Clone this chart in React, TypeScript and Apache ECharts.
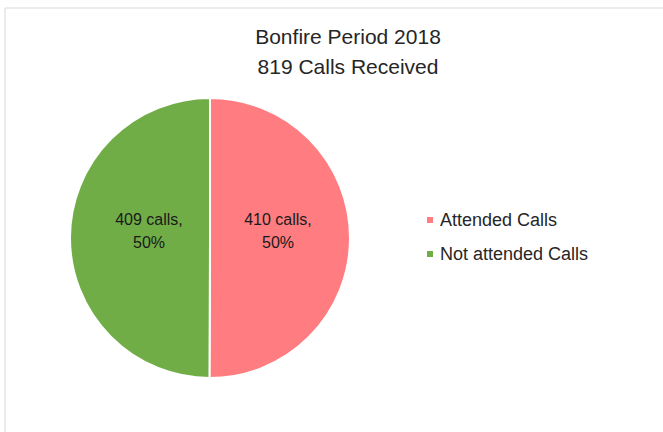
import React, { useEffect, useRef } from "react";
import * as echarts from "echarts";

const titleLines = ["Bonfire Period 2018", "819 Calls Received"];
const categories = ["Attended Calls", "Not attended Calls"];
const values = [410, 409];
const colors = ["#FF7C80", "#70AD47"];
const labelOffsets = [[-5, -7], [12, -7]];

export default function App() {
  const ref = useRef<HTMLDivElement>(null);
  useEffect(() => {
    if (!ref.current) return;
    const chart = echarts.init(ref.current, null, { renderer: "svg" });
    const total = values.reduce((a, b) => a + b, 0);
    chart.setOption({
      animation: false,
      backgroundColor: "#ffffff",
      title: {
        text: titleLines.join("\n"),
        left: 343,
        textAlign: "center",
        top: 16,
        textStyle: {
          fontFamily: "Liberation Sans, Arial, sans-serif",
          fontSize: 21,
          fontWeight: "normal",
          color: "#262626",
          lineHeight: 30,
        },
      },
      legend: {
        orient: "vertical",
        left: 420,
        top: 206,
        itemWidth: 8,
        itemHeight: 8,
        itemGap: 16,
        icon: "rect",
        textStyle: {
          fontFamily: "Liberation Sans, Arial, sans-serif",
          fontSize: 18,
          color: "#262626",
          padding: [0, 0, 0, 1],
        },
        data: categories,
      },
      graphic: [
        {
          type: "rect",
          shape: { x: 5, y: 8, width: 700, height: 500 },
          style: { fill: "none", stroke: "#d9d9d9", lineWidth: 1 },
          silent: true,
        },
      ],
      series: [
        {
          type: "pie",
          center: [210, 238],
          radius: 140,
          startAngle: 90,
          clockwise: true,
          itemStyle: { borderColor: "#ffffff", borderWidth: 2 },
          label: {
            show: true,
            position: "inside",
            formatter: (p: any) =>
              `${p.value} calls,\n${Math.round((p.value / total) * 100)}%`,
            fontFamily: "Liberation Sans, Arial, sans-serif",
            fontSize: 16,
            lineHeight: 23,
            color: "#1a1a1a",
          },
          labelLine: { show: false },
          data: categories.map((c, i) => ({
            name: c,
            value: values[i],
            itemStyle: { color: colors[i] },
            label: { offset: labelOffsets[i] },
          })),
        },
      ],
    });
    return () => chart.dispose();
  }, []);
  return (
    <div
      ref={ref}
      style={{ position: "absolute", left: 0, top: 0, width: 663, height: 432 }}
    />
  );
}
